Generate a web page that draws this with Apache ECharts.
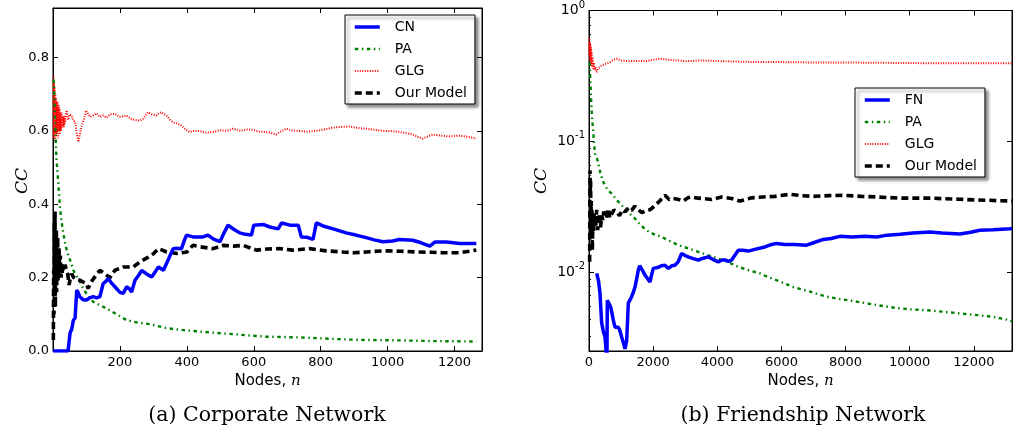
<!DOCTYPE html>
<html><head><meta charset="utf-8">
<script src="https://cdn.jsdelivr.net/npm/echarts@6/dist/echarts.min.js"></script>
<style>html,body{margin:0;padding:0;background:#fff}#c{width:1013px;height:432px}</style>
</head><body><div id="c"></div>
<script>
// ---- (a) Corporate Network ----
const cnNodes = [0,5,45,51,56,61,66,71,75,80,90,100,110,120,130,140,150,158,165,175,185,200,210,220,228,235,245,255,265,280,295,305,315,330,344,359,370,384,392,399,418,448,463,480,499,510,523,540,558,575,593,600,628,648,673,683,708,733,742,760,777,787,810,837,876,905,936,960,986,1015,1035,1075,1100,1126,1141,1176,1216,1265];
const cnCC = [0,0,0,0.049,0.06,0.084,0.09,0.166,0.16,0.148,0.14,0.139,0.145,0.148,0.145,0.148,0.184,0.19,0.198,0.185,0.175,0.16,0.157,0.175,0.17,0.161,0.193,0.205,0.22,0.21,0.202,0.215,0.229,0.22,0.248,0.279,0.28,0.279,0.3,0.316,0.311,0.311,0.316,0.305,0.298,0.32,0.343,0.332,0.322,0.318,0.316,0.343,0.345,0.338,0.333,0.349,0.343,0.343,0.311,0.31,0.304,0.349,0.34,0.333,0.322,0.316,0.309,0.303,0.298,0.3,0.304,0.302,0.295,0.286,0.297,0.297,0.293,0.293];

const paANodes = [2,4,6,8,10,13,16,21,26,31,36,41,46,51,61,70,80,90,105,120,140,160,190,220,250,290,340,390,440,490,538,590,637,690,737,790,836,890,936,990,1035,1085,1135,1200,1265];
const paACC = [0.74,0.70,0.64,0.58,0.53,0.49,0.456,0.39,0.35,0.32,0.295,0.275,0.26,0.248,0.22,0.205,0.19,0.17,0.15,0.134,0.125,0.116,0.1,0.084,0.078,0.073,0.062,0.057,0.053,0.049,0.046,0.042,0.039,0.038,0.037,0.035,0.033,0.031,0.03,0.0295,0.029,0.028,0.027,0.0265,0.026];

const glgANodes = [1,2,3,4,5,6,7,8,9,10,11,12,13,14,15,16,17,18,19,20,22,24,26,28,30,32,34,36,38,41,45,50,56,60,66,70,76,80,86,92,99,105,112,120,130,140,150,160,170,184,200,219,235,249,260,269,284,295,309,316,324,339,350,358,370,383,395,408,420,438,455,478,500,520,538,560,580,597,615,637,650,667,680,697,715,736,760,786,810,836,860,886,910,936,960,986,1010,1035,1055,1075,1090,1105,1120,1135,1160,1185,1210,1234,1250,1265];
const glgACC = [0.75,0.58,0.73,0.60,0.72,0.57,0.70,0.60,0.69,0.59,0.67,0.58,0.68,0.60,0.66,0.58,0.67,0.60,0.66,0.59,0.65,0.60,0.65,0.61,0.64,0.61,0.64,0.62,0.645,0.656,0.63,0.645,0.642,0.63,0.624,0.60,0.57,0.59,0.615,0.63,0.656,0.645,0.638,0.642,0.648,0.638,0.642,0.636,0.645,0.647,0.638,0.642,0.632,0.629,0.628,0.633,0.651,0.645,0.642,0.648,0.651,0.642,0.63,0.624,0.62,0.615,0.605,0.597,0.6,0.6,0.595,0.597,0.602,0.6,0.606,0.6,0.604,0.603,0.598,0.597,0.595,0.59,0.598,0.606,0.601,0.6,0.598,0.6,0.604,0.609,0.611,0.612,0.608,0.606,0.603,0.6,0.6,0.597,0.594,0.59,0.584,0.579,0.585,0.59,0.587,0.585,0.587,0.585,0.582,0.579];

const modelANodes = [1,2,3,4,5,6,7,8,9,10,11,12,13,14,15,16,17,18,20,22,24,26,28,30,33,36,40,44,48,52,56,62,70,80,90,100,105,112,125,140,155,170,185,210,240,260,285,300,315,340,370,400,418,440,478,508,540,568,608,640,677,717,767,817,866,900,936,986,1040,1085,1130,1165,1215,1265];
const modelACC = [0.03,0.22,0.10,0.35,0.15,0.38,0.12,0.30,0.18,0.33,0.16,0.28,0.20,0.31,0.19,0.26,0.21,0.28,0.22,0.26,0.20,0.24,0.21,0.23,0.22,0.235,0.22,0.21,0.18,0.20,0.21,0.20,0.195,0.193,0.188,0.184,0.17,0.185,0.202,0.22,0.21,0.2,0.22,0.229,0.229,0.243,0.256,0.265,0.279,0.27,0.266,0.27,0.288,0.284,0.279,0.288,0.286,0.288,0.275,0.278,0.279,0.275,0.279,0.273,0.27,0.268,0.27,0.273,0.272,0.27,0.269,0.268,0.268,0.275];

// ---- (b) Friendship Network ----
const fnNodes = [240,300,343,395,450,499,540,560,571,620,676,720,758,810,870,914,960,1018,1070,1122,1175,1226,1280,1330,1380,1434,1490,1538,1580,1621,1680,1746,1820,1901,1950,2005,2080,2161,2260,2369,2473,2580,2680,2780,2888,3000,3096,3250,3408,3560,3720,3870,4031,4150,4239,4350,4447,4550,4655,4800,4966,5200,5486,5700,5851,6100,6400,6786,7000,7304,7550,7823,8200,8600,8968,9300,9694,10100,10630,11000,11564,11900,12187,12600,13122,13190];
const fnCC = [0.0098,0.0085,0.0069,0.0041,0.0035,0.0032,0.0024,0.0022,0.0061,0.0058,0.0054,0.0048,0.0043,0.0038,0.0039,0.0038,0.0036,0.0032,0.0029,0.0026,0.003,0.0058,0.006,0.0065,0.007,0.0077,0.009,0.0104,0.0112,0.0113,0.0102,0.0095,0.009,0.0084,0.0095,0.0107,0.0108,0.0109,0.0112,0.0113,0.0107,0.0112,0.0113,0.012,0.0139,0.0134,0.0131,0.0127,0.0124,0.0128,0.0131,0.0125,0.012,0.0124,0.0124,0.0121,0.0124,0.0135,0.0147,0.0147,0.0145,0.015,0.0156,0.0163,0.0166,0.0163,0.0163,0.0161,0.0168,0.0178,0.0181,0.0188,0.0186,0.0188,0.0186,0.0192,0.0195,0.0199,0.0203,0.0199,0.0196,0.0202,0.0209,0.0211,0.0215,0.0216];

const paBNodes = [20,40,62,90,135,187,240,300,350,395,447,520,603,707,850,1018,1200,1434,1600,1797,2000,2265,2500,2784,3100,3408,3700,4031,4350,4655,5000,5330,5486,5900,6369,6900,7408,7900,8447,9000,9486,10000,10526,11000,11564,12100,12603,13122,13190];
const paBCC = [0.40,0.30,0.218,0.16,0.114,0.0805,0.076,0.066,0.058,0.0534,0.049,0.045,0.042,0.0399,0.036,0.0325,0.029,0.0257,0.023,0.0209,0.0196,0.0186,0.0174,0.0161,0.0152,0.0143,0.0135,0.0127,0.0119,0.011,0.0103,0.0098,0.0094,0.0086,0.0077,0.0071,0.0065,0.0062,0.0059,0.0056,0.00537,0.0052,0.00513,0.005,0.00484,0.0047,0.00456,0.0043,0.0042];

const glgBNodes = [5,15,25,35,45,55,65,75,85,100,115,130,150,170,200,240,280,330,395,500,655,760,862,1000,1226,1500,1797,2000,2213,2600,3044,3500,4083,5000,6162,7200,8240,9300,10318,11500,12500,13190];
const glgBCC = [0.608,0.45,0.58,0.42,0.55,0.40,0.52,0.38,0.48,0.37,0.44,0.36,0.40,0.35,0.37,0.338,0.36,0.37,0.38,0.39,0.403,0.42,0.428,0.415,0.41,0.412,0.41,0.42,0.428,0.418,0.41,0.415,0.41,0.405,0.403,0.40,0.40,0.398,0.396,0.396,0.395,0.396];

const modelBNodes = [20,31,40,50,60,70,80,90,104,120,140,160,187,210,240,270,291,330,360,395,430,460,499,540,603,650,707,780,862,950,1040,1122,1230,1330,1430,1538,1650,1797,1900,2005,2150,2369,2500,2628,2800,2940,3080,3200,3350,3512,3824,4135,4447,4707,5070,5434,5800,6266,6600,6993,7500,7928,8500,8968,9694,10200,10733,11100,11564,12000,12395,12800,13190];
const modelBCC = [0.012,0.06,0.042,0.05,0.021,0.035,0.018,0.03,0.0147,0.025,0.02,0.028,0.0264,0.022,0.03,0.021,0.0235,0.028,0.022,0.0272,0.025,0.029,0.0279,0.026,0.0306,0.026,0.0279,0.03,0.0289,0.027,0.03,0.0289,0.031,0.0297,0.032,0.03,0.0285,0.0297,0.03,0.0315,0.034,0.0387,0.036,0.0366,0.036,0.035,0.037,0.0376,0.037,0.0366,0.036,0.0376,0.0366,0.035,0.037,0.0376,0.038,0.0394,0.0385,0.038,0.0385,0.0387,0.038,0.0376,0.0368,0.0368,0.0368,0.0364,0.0361,0.0357,0.0355,0.0352,0.035];

const xTicksA = [200,400,600,800,1000,1200];
const yTicksA = [0.0,0.2,0.4,0.6,0.8];

const zip = (xs, ys) => xs.map((x, i) => [x, ys[i]]);
const SANS = 'DejaVu Sans';
const chart = echarts.init(document.getElementById('c'), null, {renderer: 'canvas'});

const tickStyle = {show: true, inside: true, length: 5, lineStyle: {color: '#000', width: 1}};
const lineAx = {show: true, onZero: false, lineStyle: {color: '#000', width: 1}};
const lab = {color: '#000', fontSize: 13, fontFamily: SANS};
const nameRich = {
  a: {fontFamily: SANS, fontSize: 15, color: '#000'},
  i: {fontFamily: 'DejaVu Serif', fontStyle: 'italic', fontSize: 15, color: '#000'}
};
function logLabel(v) {
  const l = Math.log10(v), e = Math.round(l);
  if (Math.abs(l - e) > 1e-6) return '';
  return '{b|10}{s|' + e + '}';
}
const logRich = {
  b: {fontFamily: SANS, fontSize: 14, color: '#000'},
  s: {fontFamily: SANS, fontSize: 10, color: '#000', padding: [0, 0, 11, 0]}
};

function series(name, xs, ys, xi, yi, color, width, type) {
  return {
    name, type: 'line', xAxisIndex: xi, yAxisIndex: yi, data: zip(xs, ys),
    symbol: 'none', showSymbol: false, animation: false, clip: true,
    lineStyle: {color, width, type}, itemStyle: {color, opacity: 0}
  };
}

const legendBase = {
  orient: 'vertical', itemWidth: 25, itemHeight: 14, itemGap: 8,
  padding: [5, 8, 4, 8], borderColor: '#000', borderWidth: 1, backgroundColor: '#fff',
  shadowBlur: 3, shadowColor: 'rgba(0,0,0,0.45)', shadowOffsetX: 3, shadowOffsetY: 3,
  itemStyle: {opacity: 0},
  lineStyle: {width: 'inherit'},
  textStyle: {fontFamily: SANS, fontSize: 14, color: '#000', padding: [0, 0, 0, 10]},
  selectedMode: false
};

const option = {
  animation: false,
  backgroundColor: '#fff',
  grid: [
    {left: 53, top: 8, width: 429, height: 343, show: true, borderColor: '#000', borderWidth: 1, backgroundColor: 'transparent'},
    {left: 589, top: 10, width: 423, height: 341, show: true, borderColor: '#000', borderWidth: 1, backgroundColor: 'transparent'}
  ],
  xAxis: [
    {type: 'value', gridIndex: 0, position: 'bottom', min: 0, max: 1282, interval: 200,
     axisLine: lineAx, axisTick: tickStyle, splitLine: {show: false},
     axisLabel: Object.assign({margin: 5, showMaxLabel: false, formatter: v => xTicksA.includes(v) ? String(v) : ''}, lab),
     name: '{a|Nodes, }{i|n}', nameLocation: 'middle', nameGap: 18, nameTextStyle: {rich: nameRich}},
    {type: 'value', gridIndex: 0, position: 'top', min: 0, max: 1282, interval: 200,
     axisLine: lineAx, axisTick: tickStyle, splitLine: {show: false}, axisLabel: {show: false}},
    {type: 'value', gridIndex: 1, position: 'bottom', min: 0, max: 13190, interval: 2000,
     axisLine: lineAx, axisTick: tickStyle, splitLine: {show: false},
     axisLabel: Object.assign({margin: 5, showMaxLabel: false, formatter: v => (v % 2000 === 0) ? String(v) : ''}, lab),
     name: '{a|Nodes, }{i|n}', nameLocation: 'middle', nameGap: 18, nameTextStyle: {rich: nameRich}},
    {type: 'value', gridIndex: 1, position: 'top', min: 0, max: 13190, interval: 2000,
     axisLine: lineAx, axisTick: tickStyle, splitLine: {show: false}, axisLabel: {show: false}}
  ],
  yAxis: [
    {type: 'value', gridIndex: 0, position: 'left', min: 0, max: 0.935, interval: 0.2,
     axisLine: lineAx, axisTick: tickStyle, splitLine: {show: false},
     axisLabel: Object.assign({margin: 4, showMaxLabel: false,
       formatter: v => yTicksA.some(t => Math.abs(t - v) < 1e-9) ? v.toFixed(1) : ''}, lab)},
    {type: 'value', gridIndex: 0, position: 'right', min: 0, max: 0.935, interval: 0.2,
     axisLine: lineAx, axisTick: tickStyle, splitLine: {show: false}, axisLabel: {show: false}},
    {type: 'log', logBase: 10, gridIndex: 1, position: 'left', min: 0.0025, max: 1,
     axisLine: lineAx, axisTick: tickStyle, splitLine: {show: false},
     minorTick: {show: true, splitNumber: 8, length: 2, lineStyle: {color: '#000'}},
     axisLabel: {margin: 4, formatter: logLabel, rich: logRich, showMinLabel: false}},
    {type: 'log', logBase: 10, gridIndex: 1, position: 'right', min: 0.0025, max: 1,
     axisLine: lineAx, axisTick: tickStyle, splitLine: {show: false}, axisLabel: {show: false}}
  ],
  legend: [
    Object.assign({left: 345, top: 15, data: ['CN', 'PA', 'GLG', 'Our Model']}, legendBase),
    Object.assign({left: 855, top: 88, data: ['FN', 'PA', 'GLG', 'Our Model']}, legendBase)
  ],
  graphic: [
    {type: 'text', x: 23, y: 181, rotation: Math.PI / 2,
     style: {text: 'CC', font: 'italic 17px "DejaVu Serif"', fill: '#000', textAlign: 'center', textVerticalAlign: 'middle'}},
    {type: 'text', x: 542, y: 181, rotation: Math.PI / 2,
     style: {text: 'CC', font: 'italic 17px "DejaVu Serif"', fill: '#000', textAlign: 'center', textVerticalAlign: 'middle'}},
    {type: 'text', x: 267, y: 416,
     style: {text: '(a) Corporate Network', font: '20.5px "DejaVu Serif"', fill: '#000', textAlign: 'center', textVerticalAlign: 'middle'}},
    {type: 'text', x: 803, y: 416,
     style: {text: '(b) Friendship Network', font: '20.5px "DejaVu Serif"', fill: '#000', textAlign: 'center', textVerticalAlign: 'middle'}}
  ],
  series: [
    series('GLG', glgANodes, glgACC, 0, 0, '#ff0000', 2, [1, 1.5]),
    series('PA', paANodes, paACC, 0, 0, '#008000', 2.4, [3.5, 3.5, 1.5, 3.5]),
    series('Our Model', modelANodes, modelACC, 0, 0, '#000000', 3.6, [7, 4]),
    series('CN', cnNodes, cnCC, 0, 0, '#0000ff', 3.5, 'solid'),
    series('GLG', glgBNodes, glgBCC, 2, 2, '#ff0000', 2, [1, 1.5]),
    series('PA', paBNodes, paBCC, 2, 2, '#008000', 2.4, [3.5, 3.5, 1.5, 3.5]),
    series('Our Model', modelBNodes, modelBCC, 2, 2, '#000000', 3.6, [7, 4]),
    series('FN', fnNodes, fnCC, 2, 2, '#0000ff', 3.5, 'solid')
  ]
};
chart.setOption(option);
</script>
</body></html>
